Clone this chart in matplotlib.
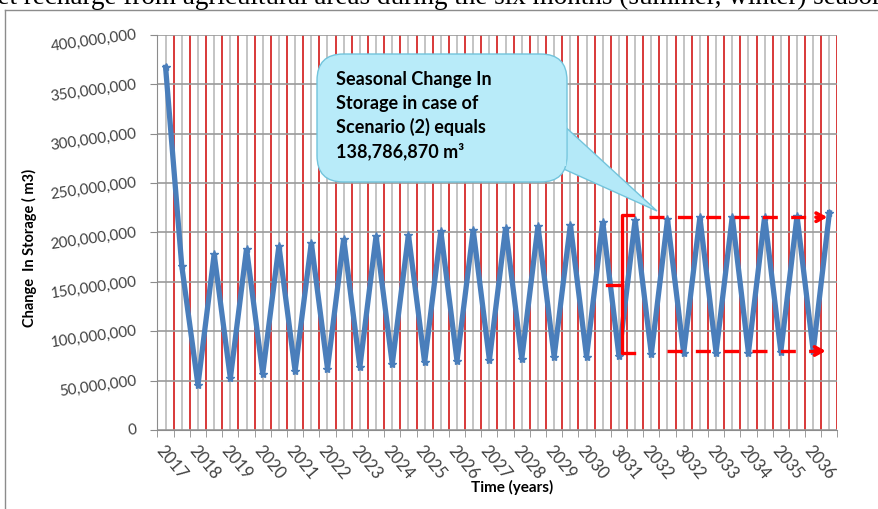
import matplotlib
matplotlib.use("Agg")
import matplotlib.pyplot as plt
from matplotlib.lines import Line2D
from matplotlib.patches import FancyBboxPatch, Polygon
from matplotlib.ticker import FuncFormatter, FixedLocator
import numpy as np

# Seasonal change in storage (m3), two values per year (summer / winter)
storage = [
    367.3e6, 166.0e6, 45.6e6, 178.0e6, 52.3e6, 183.6e6, 57.0e6, 186.6e6,
    59.7e6, 189.7e6, 62.1e6, 193.7e6, 63.8e6, 196.5e6, 66.8e6, 197.8e6,
    68.5e6, 201.2e6, 69.9e6, 202.5e6, 70.9e6, 204.9e6, 72.2e6, 206.6e6,
    74.2e6, 207.9e6, 74.2e6, 210.9e6, 75.2e6, 212.7e6, 77.0e6, 213.3e6,
    77.6e6, 215.4e6, 78.3e6, 216.0e6, 78.3e6, 216.0e6, 79.3e6, 216.7e6,
    80.0e6, 220.0e6,
]
year_labels = [
    "2017", "2018", "2019", "2020", "2021", "2022", "2023", "2024", "2025",
    "2026", "2027", "2028", "2029", "2030", "3031", "2032", "3032", "2033",
    "2034", "2035", "2036",
]
y_ticks = [0, 50e6, 100e6, 150e6, 200e6, 250e6, 300e6, 350e6, 400e6]
callout_lines = ["Seasonal Change In", "Storage in case of",
                 "Scenario (2) equals", "138,786,870 m\u00b3"]

W, H = 879, 509
fig = plt.figure(figsize=(W / 100, H / 100), dpi=100)


def fx(x):
    return x / W


def fy(y):
    return 1 - y / H


# cut-off line of document text above the chart
fig.text(fx(-16), fy(4), "net recharge from agricultural areas during the six months "
         "(summer, winter) seasons", family="Liberation Serif", fontsize=19.5,
         ha="left", va="baseline", color="black")

# chart area border
fig.add_artist(Line2D([fx(5), fx(880)], [fy(10), fy(10)], color="#8c8c8c", lw=1.0))
fig.add_artist(Line2D([fx(5), fx(5)], [fy(10), fy(510)], color="#8c8c8c", lw=1.0))

ax = fig.add_axes([fx(157.5), fy(430), fx(837.5) - fx(157.5), fy(35) - fy(430)])
n = len(storage)
x = np.arange(n)
ax.set_xlim(-0.5, n - 0.5)
ax.set_ylim(0, 400e6)

# vertical grid: grey at each value, red at each category boundary
for xi in x:
    ax.axvline(xi, color="#c4c4c4", lw=1.4, zorder=0)
for b in np.arange(n + 1) - 0.5:
    ax.axvline(b, color="#d62a2a", lw=1.3, zorder=0.5)

ax.set_yticks(y_ticks)
ax.yaxis.grid(True, color="#9a9a9a", lw=1.2, zorder=0.6)
ax.set_axisbelow(True)
ax.yaxis.set_major_formatter(FuncFormatter(lambda v, p: f"{v:,.0f}"))
for lab in ax.get_yticklabels():
    lab.set_rotation(8)
    lab.set_rotation_mode("anchor")
    lab.set_ha("right")
    lab.set_va("center")
ax.tick_params(axis="y", length=5, color="#8c8c8c", pad=10, labelsize=11,
               labelcolor="#404040")
for lab in ax.get_yticklabels():
    lab.set_family("Lato")

ax.set_xticks(x[::2])
ax.set_xticklabels(year_labels, rotation=-50, rotation_mode="anchor",
                   ha="left", va="top", family="Lato", fontsize=12,
                   color="#404040")
ax.tick_params(axis="x", which="major", length=0, pad=9)
ax.xaxis.set_minor_locator(FixedLocator(np.arange(n + 1) - 0.5))
ax.tick_params(axis="x", which="minor", length=5, color="#8c8c8c")

for side in ("top", "right"):
    ax.spines[side].set_visible(False)
for side in ("left", "bottom"):
    ax.spines[side].set_color("#8c8c8c")

ax.plot(x, storage, color="#4a7ebb", lw=3.8, marker="*", ms=6,
        solid_joinstyle="miter", zorder=3)

ax.set_xlabel("Time (years)", family="Lato", fontweight="bold", fontsize=11)
ax.xaxis.set_label_coords((512 - 157.5) / (837.5 - 157.5), -(480 - 430) / (430 - 35))
ax.set_ylabel("Change  In Storage ( m3)", family="Lato", fontweight="bold",
              fontsize=10.5)
ax.yaxis.set_label_coords((37 - 157.5) / (837.5 - 157.5), (430 - 248) / (430 - 35))

# red bracket and dashed arrows over the last seasons
red = "#ff0000"
bx = 28.2
ax.plot([bx + 0.7, bx, bx, bx + 0.75], [217.5e6, 217.5e6, 78e6, 78e6],
        color=red, lw=2.4, zorder=4, solid_joinstyle="round")
ax.plot([bx - 0.95, bx], [147e6, 147e6], color=red, lw=2.4, zorder=4)
for x0, x1, yv in [(29.85, 40.3, 215.5e6), (30.95, 40.2, 80e6)]:
    ax.plot([x0, x1], [yv, yv], color=red, lw=2.4, ls=(0, (4.5, 4.0)), zorder=4)
    ax.annotate("", xy=(x1 + 0.75, yv), xytext=(x1 - 0.3, yv),
                arrowprops=dict(arrowstyle="->,head_length=0.55,head_width=0.3",
                                color=red, lw=2.6), zorder=4)

# callout with tail
tail = Polygon([[fx(560), fy(122)], [fx(557), fy(166)], [fx(657), fy(211)]],
               closed=True, transform=fig.transFigure, facecolor="#b4e9f8",
               edgecolor="#72c4dc", lw=1.0, zorder=5)
fig.add_artist(tail)
box = FancyBboxPatch((fx(317), fy(182)), fx(567) - fx(317), fy(54) - fy(182),
                     boxstyle="round,pad=0,rounding_size=0.03",
                     transform=fig.transFigure, facecolor="#b8ebf9",
                     edgecolor="#72c4dc", lw=1.0, zorder=6,
                     mutation_aspect=W / H)
fig.add_artist(box)
# hide the tail seam inside the box
fig.add_artist(Polygon([[fx(555), fy(124)], [fx(566.2), fy(122.5)],
                        [fx(566.2), fy(166)], [fx(555), fy(166)]],
                       closed=True, transform=fig.transFigure,
                       facecolor="#b8ebf9", edgecolor="none", zorder=7))
for i, line in enumerate(callout_lines):
    fig.text(fx(336), fy(79 + i * 24), line, family="Lato", fontweight="bold",
             fontsize=13, ha="left", va="center", color="black", zorder=8)

fig.savefig("out.png", dpi=100)
